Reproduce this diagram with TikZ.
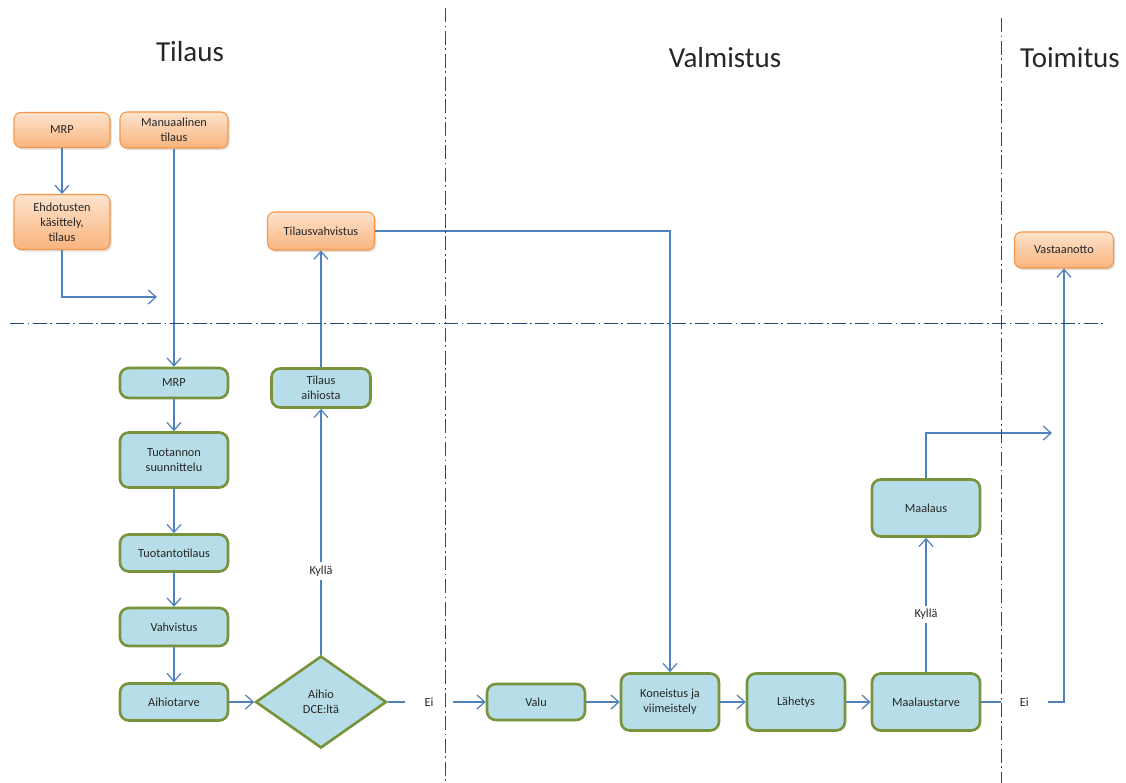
\documentclass[tikz,border=0pt]{standalone}
\usepackage{fontspec}
\setmainfont{Carlito}
\usetikzlibrary{shapes.geometric,arrows.meta,shadows}
\definecolor{linkblue}{HTML}{4F81BD}
\definecolor{sepblue}{HTML}{1F497D}
\definecolor{boxblue}{HTML}{B7DEE8}
\definecolor{boxgreen}{HTML}{77933C}
\definecolor{orangetop}{HTML}{FDE3CC}
\definecolor{orangebot}{HTML}{F9B47E}
\definecolor{orangeline}{HTML}{F79646}
\definecolor{textgray}{HTML}{262626}
\begin{document}
\begin{tikzpicture}
   [
     x                 = 0.02cm,
     y                 = -0.02cm,
     every node/.style = {font=\fontsize{7}{8.5}\selectfont, text=textgray},
     orderbox/.style   = {rectangle, rounded corners=4pt,
     draw=orangeline, line width=0.6pt, align=center, inner sep=1pt,
     top color=orangetop, bottom color=orangebot,
     drop shadow={opacity=0.25, shadow xshift=1pt, shadow yshift=-1.2pt}},
     workbox/.style    = {rectangle, rounded corners=5pt,
     draw=boxgreen, line width=1.5pt, fill=boxblue, align=center,
     minimum width=2.16cm, inner sep=1pt},
     decision/.style   = {diamond, draw=boxgreen, line width=1.5pt,
     fill=boxblue, align=center, inner sep=0pt,
     minimum width=2.62cm, minimum height=1.84cm},
     phase/.style      = {font=\fontsize{16.5}{19}\selectfont},
     link/.style       = {draw=linkblue, line width=0.7pt,
     -{Straight Barb[length=4.5pt,width=8pt]}},
     answer/.style     = {fill=white, inner sep=2pt},
     gap/.style        = {fill=white, minimum width=0.95cm, inner sep=0pt},
     divider/.style    = {draw=sepblue, line width=0.5pt,
     dash pattern=on 8pt off 2pt on 1pt off 2pt}
   ]
    \useasboundingbox (0,0) rectangle (1126,783);

    \node [phase] (tilaus)    at (190,52) {Tilaus};
    \node [phase] (valmistus) at (725,58) {Valmistus};
    \node [phase] (toimitus)  at (1070,58) {Toimitus};

    \node [orderbox, minimum width=1.92cm, minimum height=0.7cm] (mrpa) at (62,130) {MRP};
    \node [orderbox, minimum width=2.16cm, minimum height=0.72cm] (manual) at (174,130) {Manuaalinen\\tilaus};
    \node [orderbox, minimum width=1.92cm, minimum height=1.1cm] (ehdotus) at (62,222) {Ehdotusten\\käsittely,\\tilaus};
    \node [orderbox, minimum width=2.14cm, minimum height=0.76cm] (tilvahv) at (321,231) {Tilausvahvistus};
    \node [orderbox, minimum width=1.98cm, minimum height=0.72cm] (vastaanotto) at (1064,250) {Vastaanotto};

    \node [workbox, minimum height=0.6cm] (mrpb) at (174,383) {MRP};
    \node [workbox, minimum height=1.1cm] (suunnittelu) at (174,460) {Tuotannon\\suunnittelu};
    \node [workbox, minimum height=0.74cm] (tuotanto) at (174,553) {Tuotantotilaus};
    \node [workbox, minimum height=0.76cm] (vahv) at (174,627) {Vahvistus};
    \node [workbox, minimum height=0.74cm] (tarve) at (174,702) {Aihiotarve};
    \node [workbox, minimum width=1.98cm, minimum height=0.78cm] (tilaih) at (321,388) {Tilaus\\aihiosta};
    \node [decision] (dce) at (321,702) {Aihio\\DCE:ltä};
    \node [workbox, minimum width=1.96cm, minimum height=0.72cm] (valu) at (536,702) {Valu};
    \node [workbox, minimum width=1.96cm, minimum height=1.14cm] (kone) at (670,702) {Koneistus ja\\viimeistely};
    \node [workbox, minimum width=1.96cm, minimum height=1.14cm] (lahetys) at (796,702) {Lähetys};
    \node [workbox, minimum height=1.14cm] (maalaustarve) at (926,702) {Maalaustarve};
    \node [workbox, minimum height=1.14cm] (maalaus) at (926,508) {Maalaus};

    \coordinate (ehdend)  at (157,297);
    \coordinate (toimend) at (1052,433);

    \draw [link] (mrpa) -- (ehdotus);
    \draw [link] (ehdotus.south) |- (ehdend);
    \draw [link] (manual) -- (mrpb);
    \draw [link] (tilvahv.east) -| (kone.north);
    \draw [link] (tilaih) -- (tilvahv);
    \draw [link] (mrpb) -- (suunnittelu);
    \draw [link] (suunnittelu) -- (tuotanto);
    \draw [link] (tuotanto) -- (vahv);
    \draw [link] (vahv) -- (tarve);
    \draw [link] (tarve) -- (dce);
    \draw [link] (dce) -- node [answer, pos=0.34] {Kyllä} (tilaih);
    \draw [link] (dce) -- node [gap, pos=0.42] {Ei} (valu);
    \draw [link] (valu) -- (kone);
    \draw [link] (kone) -- (lahetys);
    \draw [link] (lahetys) -- (maalaustarve);
    \draw [link] (maalaustarve) -- node [answer, pos=0.43] {Kyllä} (maalaus);
    \draw [link] (maalaus.north) |- (toimend);
    \draw [link] (maalaustarve.east) -| node [gap, pos=0.26] {Ei} (vastaanotto.south);

    \draw [divider] (445,8) -- (445,783);
    \draw [divider] (1001,18) -- (1001,783);
    \draw [divider] (10,323) -- (1106,323);
\end{tikzpicture}
\end{document}
